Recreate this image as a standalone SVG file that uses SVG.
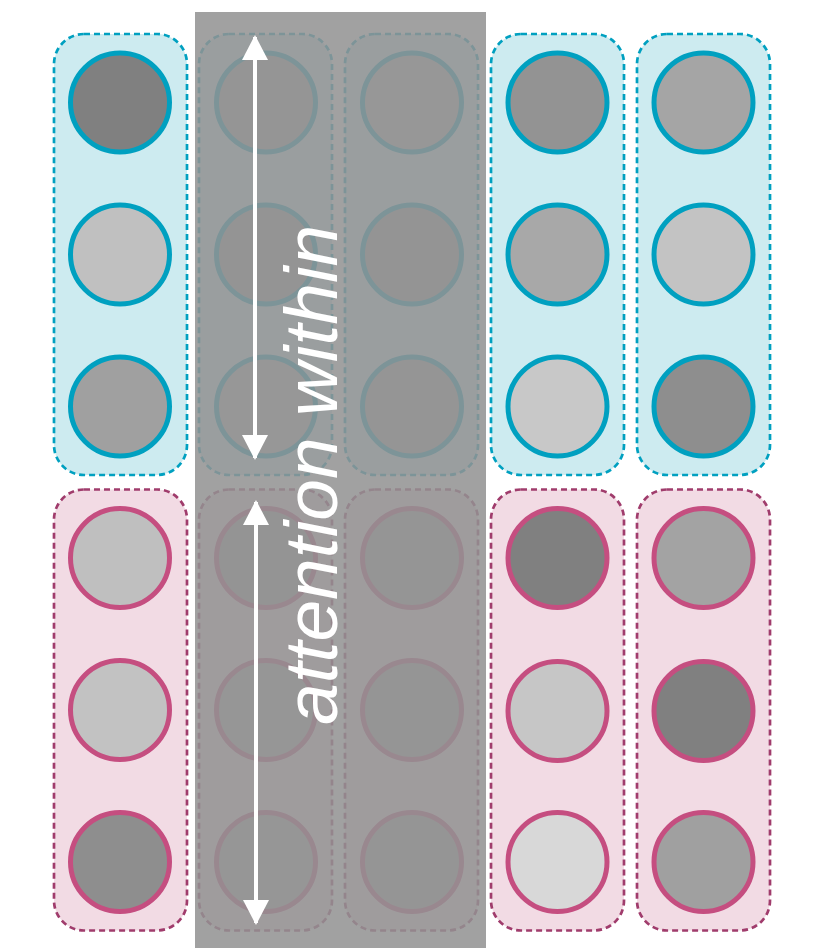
<svg xmlns="http://www.w3.org/2000/svg" width="813" height="948" viewBox="0 0 813 948">
<style>
.bc{fill:#cdebf0;stroke:#00a0c0;stroke-width:2.7;stroke-dasharray:6 4}
.bp{fill:#f2dbe4;stroke:#a03c6c;stroke-width:2.7;stroke-dasharray:6 4}
.cc{stroke:#00a0c0;stroke-width:5}
.cp{stroke:#c54e80;stroke-width:5}
.arr{stroke:#ffffff;stroke-width:4;fill:none}
.lbl{font-family:"Liberation Sans",Arial,sans-serif;font-style:italic;font-size:75px;fill:#ffffff}
</style>
<defs>
<marker id="ah" viewBox="0 0 25 26" refX="23" refY="13" markerWidth="25" markerHeight="26" markerUnits="userSpaceOnUse" orient="auto-start-reverse">
<path d="M0,0 L25,13 L0,26 Z" fill="#ffffff"/>
</marker>
</defs>
<rect width="813" height="948" fill="#ffffff"/>
<!-- column 1 -->
<g id="col1-top"><rect class="bc" x="54" y="34" width="133" height="441" rx="30"/>
<circle class="cc" cx="120" cy="102.5" r="49.5" fill="#808080"/>
<circle class="cc" cx="120" cy="254.5" r="49.5" fill="#c0c0c0"/>
<circle class="cc" cx="120" cy="406.5" r="49.5" fill="#a0a0a0"/></g>
<g id="col1-bottom"><rect class="bp" x="54" y="489.5" width="133" height="441" rx="30"/>
<circle class="cp" cx="120" cy="558" r="49.5" fill="#bfbfbf"/>
<circle class="cp" cx="120" cy="710" r="49.5" fill="#c2c2c2"/>
<circle class="cp" cx="120" cy="862" r="49.5" fill="#8e8e8e"/></g>
<!-- column 2 -->
<g id="col2-top"><rect class="bc" x="199" y="34" width="133" height="441" rx="30"/>
<circle class="cc" cx="266" cy="102.5" r="49.5" fill="#a8a8a8"/>
<circle class="cc" cx="266" cy="254.5" r="49.5" fill="#a4a4a4"/>
<circle class="cc" cx="266" cy="406.5" r="49.5" fill="#b4b4b4"/></g>
<g id="col2-bottom"><rect class="bp" x="199" y="489.5" width="133" height="441" rx="30"/>
<circle class="cp" cx="266" cy="558" r="49.5" fill="#a4a4a4"/>
<circle class="cp" cx="266" cy="710" r="49.5" fill="#b0b0b0"/>
<circle class="cp" cx="266" cy="862" r="49.5" fill="#b0b0b0"/></g>
<!-- column 3 -->
<g id="col3-top"><rect class="bc" x="345" y="34" width="133" height="441" rx="30"/>
<circle class="cc" cx="412" cy="102.5" r="49.5" fill="#b8b8b8"/>
<circle class="cc" cx="412" cy="254.5" r="49.5" fill="#a4a4a4"/>
<circle class="cc" cx="412" cy="406.5" r="49.5" fill="#a8a8a8"/></g>
<g id="col3-bottom"><rect class="bp" x="345" y="489.5" width="133" height="441" rx="30"/>
<circle class="cp" cx="412" cy="558" r="49.5" fill="#a8a8a8"/>
<circle class="cp" cx="412" cy="710" r="49.5" fill="#a8a8a8"/>
<circle class="cp" cx="412" cy="862" r="49.5" fill="#acacac"/></g>
<!-- column 4 -->
<g id="col4-top"><rect class="bc" x="491" y="34" width="133" height="441" rx="30"/>
<circle class="cc" cx="557.5" cy="102.5" r="49.5" fill="#939393"/>
<circle class="cc" cx="557.5" cy="254.5" r="49.5" fill="#a8a8a8"/>
<circle class="cc" cx="557.5" cy="406.5" r="49.5" fill="#c8c8c8"/></g>
<g id="col4-bottom"><rect class="bp" x="491" y="489.5" width="133" height="441" rx="30"/>
<circle class="cp" cx="557.5" cy="558" r="49.5" fill="#808080"/>
<circle class="cp" cx="557.5" cy="711" r="49.5" fill="#c6c6c6"/>
<circle class="cp" cx="557.5" cy="862" r="49.5" fill="#d8d8d8"/></g>
<!-- column 5 -->
<g id="col5-top"><rect class="bc" x="637" y="34" width="133" height="441" rx="30"/>
<circle class="cc" cx="703.5" cy="102.5" r="49.5" fill="#a5a5a5"/>
<circle class="cc" cx="703.5" cy="254.5" r="49.5" fill="#c3c3c3"/>
<circle class="cc" cx="703.5" cy="406.5" r="49.5" fill="#8e8e8e"/></g>
<g id="col5-bottom"><rect class="bp" x="637" y="489.5" width="133" height="441" rx="30"/>
<circle class="cp" cx="703.5" cy="558" r="49.5" fill="#a3a3a3"/>
<circle class="cp" cx="703.5" cy="711" r="49.5" fill="#808080"/>
<circle class="cp" cx="703.5" cy="862" r="49.5" fill="#a0a0a0"/></g>
<!-- overlay -->
<g id="overlay"><rect x="195" y="12" width="291" height="936" fill="#919191" fill-opacity="0.86"/></g>
<!-- connectors -->
<g id="connectors">
<line class="arr" x1="255" y1="37" x2="255" y2="458" marker-start="url(#ah)" marker-end="url(#ah)"/>
<line class="arr" x1="256" y1="502" x2="256" y2="923" marker-start="url(#ah)" marker-end="url(#ah)"/>
</g>
<g id="label"><text class="lbl" transform="translate(337,725) rotate(-90)">attention within</text></g>
</svg>
